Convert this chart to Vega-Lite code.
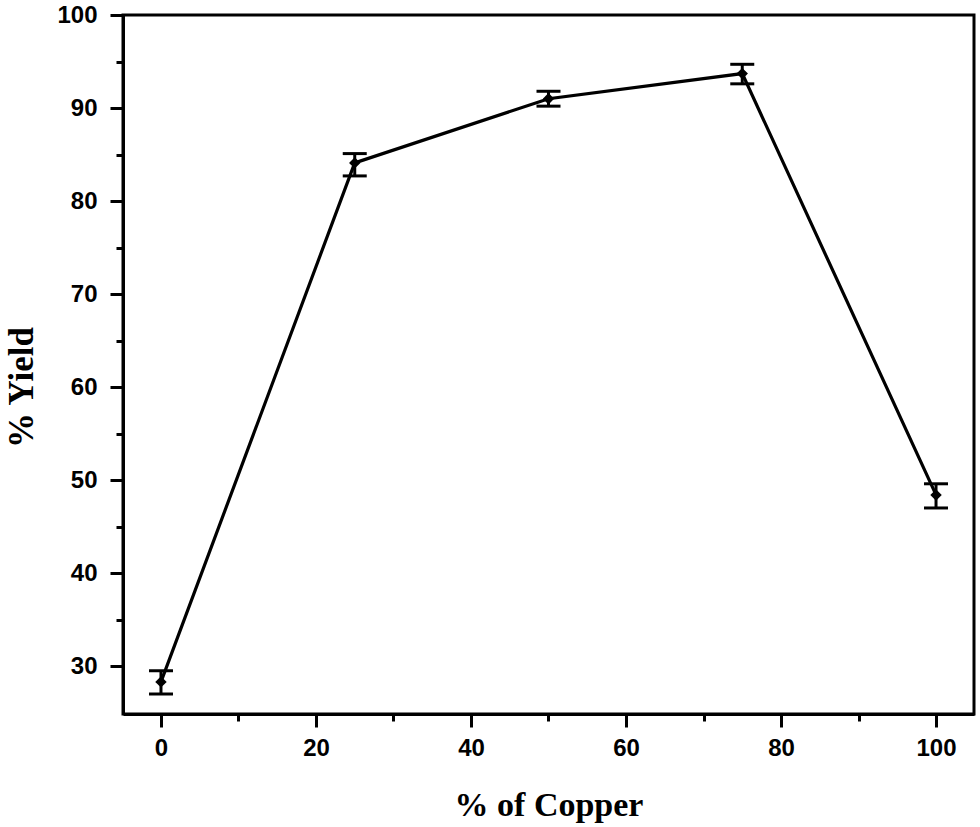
{
  "$schema": "https://vega.github.io/schema/vega-lite/v6.json",
  "width": 851,
  "height": 699,
  "autosize": {"type": "none"},
  "padding": {"left": 123, "top": 15, "right": 6, "bottom": 113},
  "background": "white",
  "config": {
    "view": {"stroke": "black", "strokeWidth": 3},
    "axis": {
      "domainColor": "black", "domainWidth": 3, "tickColor": "black", "tickWidth": 3,
      "grid": false, "labelFont": "Liberation Sans", "labelFontWeight": "bold", "labelFontSize": 24,
      "labelColor": "black", "titleFont": "Liberation Serif", "titleFontWeight": "bold",
      "titleFontSize": 34, "titleColor": "black"
    }
  },
  "data": {"values": [
    {"copper": 0, "yield": 28.3, "lo": 27.0, "hi": 29.5},
    {"copper": 25, "yield": 84.1, "lo": 82.7, "hi": 85.1},
    {"copper": 50, "yield": 91.0, "lo": 90.2, "hi": 91.8},
    {"copper": 75, "yield": 93.7, "lo": 92.6, "hi": 94.7},
    {"copper": 100, "yield": 48.4, "lo": 47.0, "hi": 49.6}
  ]},
  "resolve": {"axis": {"x": "independent", "y": "independent"}},
  "layer": [
    {
      "mark": {"type": "line", "color": "black", "strokeWidth": 3.2},
      "encoding": {
        "x": {"field": "copper", "type": "quantitative", "scale": {"domain": [-4.9, 104.9], "nice": false, "zero": false},
          "axis": {"orient": "bottom", "values": [0, 20, 40, 60, 80, 100], "tickSize": 13, "tickWidth": 3, "labelPadding": 9,
            "title": "% of Copper", "titleY": 101, "titleBaseline": "alphabetic"}},
        "y": {"field": "yield", "type": "quantitative", "scale": {"domain": [24.85, 100], "nice": false, "zero": false},
          "axis": {"orient": "left", "values": [30, 40, 50, 60, 70, 80, 90, 100], "tickSize": 13, "tickWidth": 3, "labelPadding": 13,
            "title": "% Yield", "titleFontSize": 35, "titleX": -91, "titleY": 372, "titleAngle": -90, "titleAlign": "center", "titleBaseline": "alphabetic"}}
      }
    },
    {
      "mark": {"type": "rule", "color": "black", "strokeWidth": 3},
      "encoding": {
        "x": {"field": "copper", "type": "quantitative",
          "axis": {"orient": "bottom", "values": [10, 30, 50, 70, 90], "tickSize": 7, "tickWidth": 3, "labels": false, "domain": false, "title": null}},
        "y": {"field": "lo", "type": "quantitative",
          "axis": {"orient": "left", "values": [35, 45, 55, 65, 75, 85, 95], "tickSize": 7, "tickWidth": 3, "labels": false, "domain": false, "title": null}},
        "y2": {"field": "hi"}
      }
    },
    {
      "mark": {"type": "tick", "color": "black", "thickness": 3, "size": 24, "orient": "horizontal", "opacity": 1},
      "encoding": {
        "x": {"field": "copper", "type": "quantitative", "axis": null},
        "y": {"field": "lo", "type": "quantitative", "axis": null}
      }
    },
    {
      "mark": {"type": "tick", "color": "black", "thickness": 3, "size": 24, "orient": "horizontal", "opacity": 1},
      "encoding": {
        "x": {"field": "copper", "type": "quantitative", "axis": null},
        "y": {"field": "hi", "type": "quantitative", "axis": null}
      }
    },
    {
      "mark": {"type": "point", "shape": "diamond", "filled": true, "color": "black", "size": 130, "opacity": 1},
      "encoding": {
        "x": {"field": "copper", "type": "quantitative", "axis": null},
        "y": {"field": "yield", "type": "quantitative", "axis": null}
      }
    }
  ]
}
